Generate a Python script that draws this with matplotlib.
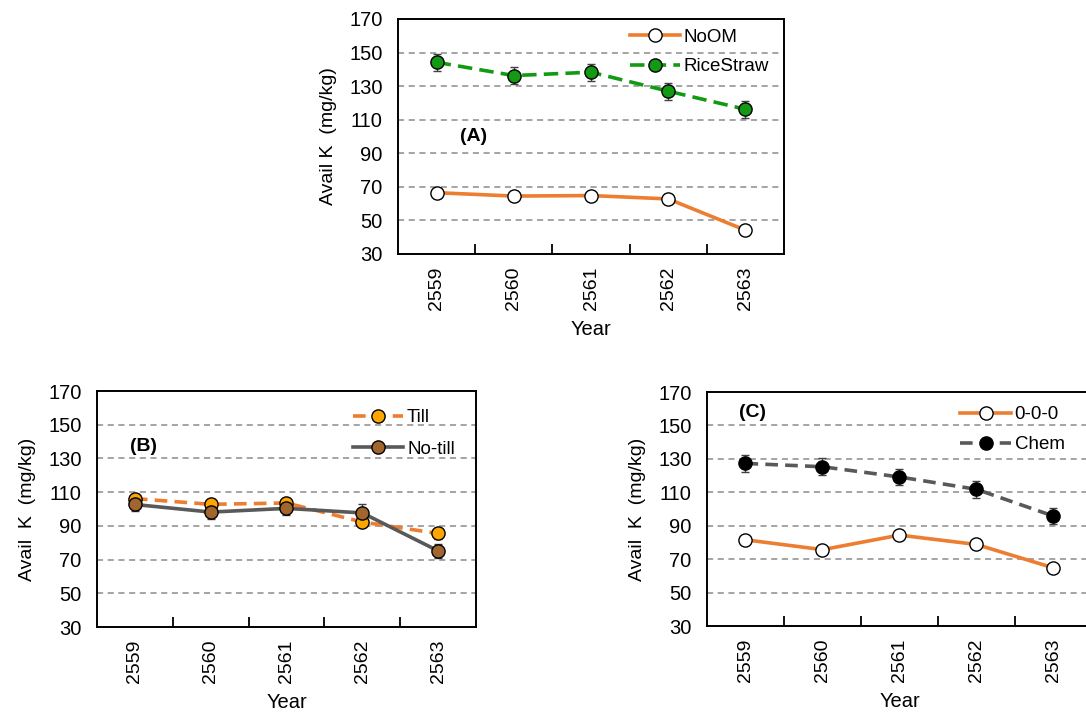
import numpy as np
import matplotlib
matplotlib.use("Agg")
import matplotlib.pyplot as plt

plt.rcParams['font.family'] = ['Liberation Sans', 'DejaVu Sans']

# Dados
years = ["2559", "2560", "2561", "2562", "2563"]

noom = [66.5, 64.5, 64.8, 62.8, 44.2]
noom_err = [3, 3, 3, 3, 3]
ricestraw = [144.2, 136.3, 138.3, 127.0, 116.2]
ricestraw_err = [5, 5, 5, 5, 5]

till = [106.2, 102.8, 103.6, 92.3, 85.5]
till_err = [3, 3, 3, 3, 3]
notill = [102.7, 98.2, 100.4, 97.7, 75.2]
notill_err = [4, 4, 4, 5, 4]

npk0 = [81.6, 75.7, 84.4, 78.8, 64.8]
npk0_err = [2, 2, 2, 2, 2]
chem = [127.3, 125.3, 119.2, 111.8, 95.8]
chem_err = [5, 5, 5, 5, 5]

ylabel_A = "Avail K  (mg/kg)"
ylabel_BC = "Avail  K  (mg/kg)"


def setup_axes(ax, ylabel):
    x = np.arange(len(years))
    ax.set_xlim(-0.5, len(years) - 0.5)
    ax.set_ylim(30, 170)
    ax.set_yticks(np.arange(30, 171, 20))
    for yv in range(50, 151, 20):
        ax.axhline(yv, color='#8c8c8c', linestyle=(0, (4, 3)), linewidth=1.1, zorder=0)
    ax.set_xticks(x)
    ax.set_xticklabels(years, rotation=90)
    ax.set_xticks(np.arange(0.5, len(years) - 1, 1.0), minor=True)
    ax.tick_params(axis='x', which='major', length=0, pad=9, labelsize=14)
    ax.tick_params(axis='x', which='minor', direction='in', length=7, width=1.3, color='black')
    ax.tick_params(axis='y', length=0, pad=11, labelsize=14.5)
    for s in ax.spines.values():
        s.set_linewidth(1.4)
        s.set_color('black')
    ax.set_xlabel("Year", fontsize=14.5, labelpad=7)
    ax.set_ylabel(ylabel, fontsize=14, labelpad=9)


def series(ax, y, err, color, ls, mfc, label, lw=2.6):
    x = np.arange(len(years))
    ax.errorbar(x, y, yerr=err, fmt='none', ecolor='#404040', elinewidth=1.0,
                capsize=3, capthick=1.0, zorder=2)
    ax.plot(x, y, color=color, linestyle=ls, linewidth=lw, marker='o',
            markersize=9.5, markerfacecolor=mfc, markeredgecolor='black',
            markeredgewidth=1.0, label=label, zorder=3)


fig = plt.figure(figsize=(10.86, 7.14), dpi=100)

# (A)
axA = fig.add_axes([0.3665, 0.6443, 0.3554, 0.3291])
setup_axes(axA, ylabel_A)
series(axA, noom, noom_err, '#ED7D31', '-', 'white', 'NoOM')
series(axA, ricestraw, ricestraw_err, '#139A13', (0, (4, 2)), '#139A13', 'RiceStraw')
axA.text(0.48, 100, "(A)", fontsize=14, fontweight='bold', ha='center', va='center')
axA.legend(loc='upper left', bbox_to_anchor=(0.566, 1.015), frameon=False, fontsize=13.5,
           handlelength=2.7, handletextpad=0.2, labelspacing=0.66, borderaxespad=0.3)

# (B)
axB = fig.add_axes([0.0893, 0.1218, 0.349, 0.3305])
setup_axes(axB, ylabel_BC)
series(axB, till, till_err, '#ED7D31', (0, (3.5, 2)), '#FFA500', 'Till')
series(axB, notill, notill_err, '#595959', '-', '#A0662E', 'No-till')
axB.text(0.12, 137, "(B)", fontsize=14, fontweight='bold', ha='center', va='center')
axB.legend(loc='upper left', bbox_to_anchor=(0.64, 0.978), frameon=False, fontsize=13.5,
           handlelength=2.7, handletextpad=0.2, labelspacing=0.75, borderaxespad=0.3)

# (C)
axC = fig.add_axes([0.651, 0.1232, 0.3545, 0.3277])
setup_axes(axC, ylabel_BC)
series(axC, npk0, npk0_err, '#ED7D31', '-', 'white', '0-0-0')
series(axC, chem, chem_err, '#595959', (0, (3.5, 2)), 'black', 'Chem')
axC.text(0.09, 158, "(C)", fontsize=14, fontweight='bold', ha='center', va='center')
axC.legend(loc='upper left', bbox_to_anchor=(0.624, 0.995), frameon=False, fontsize=13.5,
           handlelength=2.7, handletextpad=0.2, labelspacing=0.68, borderaxespad=0.3)

fig.savefig("out.png", dpi=100)
